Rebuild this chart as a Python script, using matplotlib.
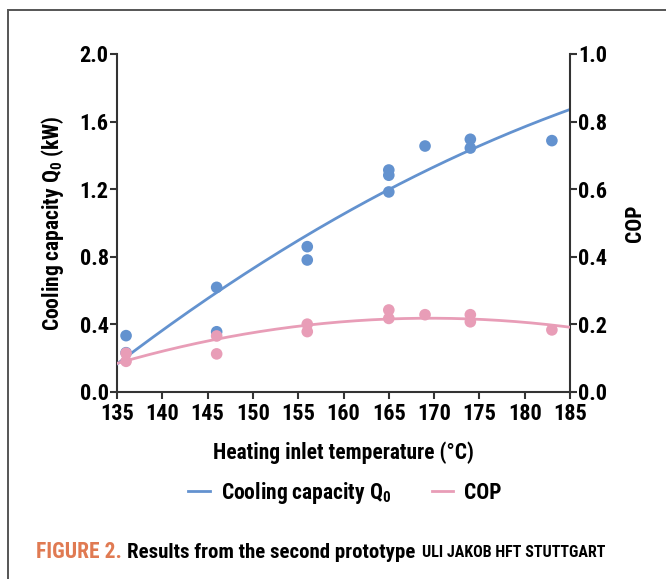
import numpy as np
import matplotlib
matplotlib.use("Agg")
import matplotlib.pyplot as plt
from matplotlib import font_manager as fm
from matplotlib.patches import Rectangle

names = {f.name for f in fm.fontManager.ttflist}
FONT = next((n for n in ["Roboto Condensed", "Archivo Narrow", "Barlow Semi Condensed",
                         "Liberation Sans Narrow", "Roboto"] if n in names), "DejaVu Sans")
plt.rcParams['font.family'] = [FONT, 'DejaVu Sans']
plt.rcParams['font.weight'] = 'bold'
plt.rcParams['axes.labelweight'] = 'bold'
plt.rcParams['mathtext.fontset'] = 'custom'
plt.rcParams['mathtext.rm'] = FONT + ':bold'
plt.rcParams['mathtext.it'] = FONT + ':bold'
plt.rcParams['mathtext.bf'] = FONT + ':bold'
plt.rcParams['mathtext.default'] = 'rm'

# ---- data ----
temp_q = [136, 136, 146, 146, 156, 156, 165, 165, 165, 169, 174, 174, 183]
cooling_q = [0.332, 0.231, 0.618, 0.355, 0.859, 0.780, 1.313, 1.282, 1.183, 1.455, 1.495, 1.443, 1.487]
temp_cop = [136, 136, 146, 146, 156, 156, 165, 165, 169, 174, 174, 183]
cop = [0.114, 0.090, 0.165, 0.112, 0.200, 0.178, 0.242, 0.217, 0.228, 0.228, 0.207, 0.183]
x_ticks = [135, 140, 145, 150, 155, 160, 165, 170, 175, 180, 185]
yl_ticks = [0.0, 0.4, 0.8, 1.2, 1.6, 2.0]
yr_ticks = [0.0, 0.2, 0.4, 0.6, 0.8, 1.0]

BLUE = '#6392CF'
PINK = '#E89DB7'
ORANGE = '#E07A52'
DARK = '#333333'
TFS = 16     # tick labels
LFS = 15.5   # axis labels / legend

W, H = 666, 579
fig = plt.figure(figsize=(W/100, H/100), dpi=100)
fig.patches.append(Rectangle((8/W, -0.1), 1.2, 0.1 + 1 - 10/H, transform=fig.transFigure,
                             fill=False, edgecolor='#555555', linewidth=1.4))

ax = fig.add_axes([117/W, 1-391.7/H, (570-117)/W, (391.7-54)/H])
ax2 = ax.twinx()

xs = np.linspace(135, 185, 200)
cq = np.polyfit(temp_q, cooling_q, 2)
cc = np.polyfit(temp_cop, cop, 2)

ax.plot(xs, np.polyval(cq, xs), color=BLUE, lw=2.0, zorder=3)
ax.scatter(temp_q, cooling_q, s=70, color=BLUE, edgecolors='none', zorder=4)
ax2.plot(xs, np.polyval(cc, xs), color=PINK, lw=2.0, zorder=3)
ax2.scatter(temp_cop, cop, s=70, color=PINK, edgecolors='none', zorder=4)

ax.set_xlim(135, 185)
ax.set_ylim(0, 2.0)
ax2.set_ylim(0, 1.0)
ax.set_xticks(x_ticks)
ax.set_xticklabels([str(v) for v in x_ticks], fontweight='bold')
ax.set_yticks(yl_ticks)
ax.set_yticklabels([f"{v:.1f}" for v in yl_ticks], fontweight='bold')
ax2.set_yticks(yr_ticks)
ax2.set_yticklabels([f"{v:.1f}" for v in yr_ticks], fontweight='bold')

for a in (ax, ax2):
    a.spines['top'].set_visible(False)
    for s in a.spines.values():
        s.set_color(DARK)
        s.set_linewidth(1.5)
    a.tick_params(direction='out', length=5, width=1.5, color=DARK, labelsize=TFS, pad=1)
ax.tick_params(axis='x', pad=3)
ax.spines['right'].set_visible(False)
ax2.spines['left'].set_visible(False)
ax2.spines['bottom'].set_visible(False)

ax.set_xlabel('Heating inlet temperature (°C)', fontsize=LFS, labelpad=12)
ax.set_ylabel('Cooling capacity Q$_0$ (kW)', fontsize=LFS, labelpad=10)
ax2.set_ylabel('COP', fontsize=LFS, labelpad=12)

h1, = ax.plot([], [], color=BLUE, lw=2.0)
h2, = ax.plot([], [], color=PINK, lw=2.0)
fig.legend([h1, h2], ['Cooling capacity Q$_0$', 'COP'], loc='center', bbox_to_anchor=(345/W, 1-493/H),
           ncol=2, frameon=False, prop={'size': LFS, 'weight': 'bold'}, handlelength=1.0,
           columnspacing=1.9, handletextpad=0.5)

# caption
fig.canvas.draw()
r = fig.canvas.get_renderer()
cy = 1 - 552/H
t1 = fig.text(36/W, cy, 'FIGURE 2.', color=ORANGE, fontsize=15.5, va='center', ha='left')
bb = t1.get_window_extent(r)
t2 = fig.text((bb.x1 + 5)/W, cy, 'Results from the second prototype', color='black', fontsize=15, va='center', ha='left')
bb = t2.get_window_extent(r)
t3 = fig.text((bb.x1 + 7)/W, cy - 0.001, 'ULI JAKOB HFT STUTTGART', color='black', fontsize=11.5, va='center', ha='left')

fig.savefig('out.png', dpi=100)
